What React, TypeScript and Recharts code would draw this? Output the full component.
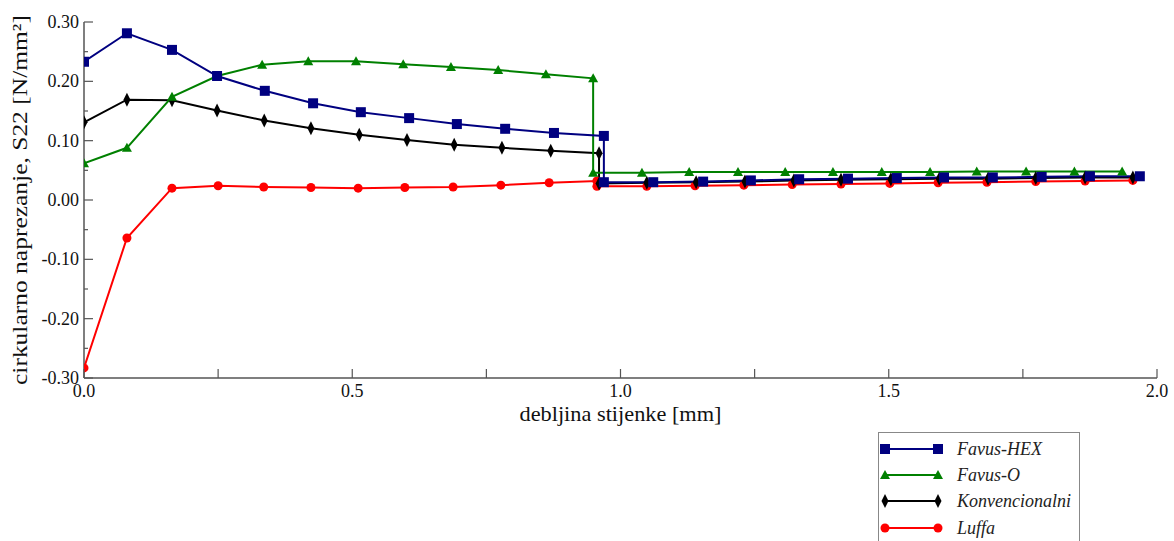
import React from 'react';
import { LineChart, Line, XAxis, YAxis, Label } from 'recharts';

// ---- data (x in mm, y in N/mm²) ----
const hexX = [0, 0.08, 0.164, 0.248, 0.337, 0.427, 0.516, 0.606, 0.695, 0.785, 0.876, 0.969,
  0.969, 1.061, 1.154, 1.243, 1.333, 1.424, 1.515, 1.603, 1.694, 1.785, 1.875, 1.968];
const hexY = [0.233, 0.281, 0.253, 0.209, 0.184, 0.163, 0.148, 0.138, 0.128, 0.12, 0.113, 0.108,
  0.03, 0.03, 0.031, 0.033, 0.035, 0.036, 0.037, 0.038, 0.038, 0.039, 0.04, 0.04];

const oX = [0, 0.08, 0.164, 0.248, 0.332, 0.418, 0.507, 0.595, 0.684, 0.772, 0.861, 0.949,
  0.949, 1.04, 1.128, 1.219, 1.307, 1.396, 1.487, 1.577, 1.664, 1.756, 1.846, 1.935];
const oY = [0.062, 0.088, 0.174, 0.209, 0.228, 0.234, 0.234, 0.229, 0.224, 0.219, 0.212, 0.205,
  0.046, 0.046, 0.047, 0.047, 0.047, 0.047, 0.047, 0.047, 0.048, 0.048, 0.048, 0.048];

const konvX = [0, 0.08, 0.164, 0.248, 0.336, 0.423, 0.513, 0.602, 0.69, 0.779, 0.87, 0.96,
  0.96, 1.049, 1.141, 1.232, 1.323, 1.411, 1.504, 1.594, 1.685, 1.774, 1.866, 1.955];
const konvY = [0.131, 0.169, 0.168, 0.151, 0.134, 0.121, 0.11, 0.101, 0.093, 0.088, 0.083, 0.079,
  0.028, 0.029, 0.03, 0.031, 0.033, 0.034, 0.035, 0.036, 0.036, 0.037, 0.038, 0.038];

const luffaX = [0, 0.08, 0.164, 0.25, 0.335, 0.423, 0.511, 0.598, 0.688, 0.777, 0.867, 0.956,
  0.956, 1.049, 1.139, 1.23, 1.32, 1.411, 1.502, 1.592, 1.683, 1.774, 1.866, 1.955];
const luffaY = [-0.283, -0.064, 0.02, 0.024, 0.022, 0.021, 0.02, 0.021, 0.022, 0.025, 0.029, 0.032,
  0.023, 0.023, 0.024, 0.025, 0.026, 0.027, 0.028, 0.029, 0.03, 0.031, 0.032, 0.033];

const xTicks = [0, 0.25, 0.5, 0.75, 1, 1.25, 1.5, 1.75, 2];
const yTicks = [-0.3, -0.25, -0.2, -0.15, -0.1, -0.05, 0, 0.05, 0.1, 0.15, 0.2, 0.25, 0.3];

const seriesNames = ['Favus-HEX', 'Favus-O', 'Konvencionalni', 'Luffa'];
const colors = ['#000080', '#008000', '#000000', '#ff0000'];

const toPts = (xs: number[], ys: number[]) => xs.map((x, i) => ({ x, y: ys[i] }));
const hexData = toPts(hexX, hexY);
const oData = toPts(oX, oY);
const konvData = toPts(konvX, konvY);
const luffaData = toPts(luffaX, luffaY);

const FONT = '"Liberation Serif", "Times New Roman", serif';
const FRAME = '#555555';

function Marker({ kind, cx, cy, color }: { kind: number; cx: number; cy: number; color: string }) {
  if (kind === 0) return <rect x={cx - 5} y={cy - 5} width={10} height={10} fill={color} />;
  if (kind === 1)
    return <polygon points={`${cx},${cy - 5} ${cx - 5},${cy + 4} ${cx + 5},${cy + 4}`} fill={color} />;
  if (kind === 2)
    return <polygon points={`${cx},${cy - 7} ${cx + 3.5},${cy} ${cx},${cy + 7} ${cx - 3.5},${cy}`} fill={color} />;
  return <circle cx={cx} cy={cy} r={4.5} fill={color} />;
}

const makeDot = (kind: number) => (p: any) => {
  if (p.cx == null || p.cy == null) return <g key={p.index} />;
  return <Marker key={`d-${kind}-${p.index}`} kind={kind} cx={p.cx} cy={p.cy} color={colors[kind]} />;
};

const isMult = (v: number, step: number) => Math.abs(v / step - Math.round(v / step)) < 1e-6;

const BottomTick = (p: any) => {
  const { x, y, payload } = p;
  const v = payload.value as number;
  const major = isMult(v, 0.5);
  return (
    <g>
      <line x1={x} y1={y} x2={x} y2={y - 9} stroke={FRAME} strokeWidth={1.2} />
      {major && (
        <text x={x} y={y + 19} textAnchor="middle" fontFamily={FONT} fontSize={18} fill="#111">
          {v.toFixed(1)}
        </text>
      )}
    </g>
  );
};

const TopTick = (p: any) => {
  const { x, y } = p;
  return <line x1={x} y1={y} x2={x} y2={y + 9} stroke={FRAME} strokeWidth={1.2} />;
};

const LeftTick = (p: any) => {
  const { x, y, payload } = p;
  const v = payload.value as number;
  const major = isMult(v, 0.1);
  return (
    <g>
      <line x1={x} y1={y} x2={x + (major ? 9 : 4)} y2={y} stroke={FRAME} strokeWidth={1.2} />
      {major && (
        <text x={x - 5} y={y + 6} textAnchor="end" fontFamily={FONT} fontSize={18} fill="#111">
          {v.toFixed(2)}
        </text>
      )}
    </g>
  );
};

const RightTick = (p: any) => {
  const { x, y } = p;
  return <line x1={x} y1={y} x2={x - 9} y2={y} stroke={FRAME} strokeWidth={1.2} />;
};

function LegendBox() {
  const rows = [16, 42, 68, 95];
  return (
    <div
      style={{
        position: 'absolute',
        left: 878,
        top: 432,
        width: 202,
        height: 130,
        border: '1px solid #888',
        background: '#fff',
        boxSizing: 'border-box',
      }}
    >
      <svg width={202} height={130}>
        {seriesNames.map((name, i) => (
          <g key={name}>
            <line x1={6} y1={rows[i]} x2={59} y2={rows[i]} stroke={colors[i]} strokeWidth={2} />
            <Marker kind={i} cx={6} cy={rows[i]} color={colors[i]} />
            <Marker kind={i} cx={59} cy={rows[i]} color={colors[i]} />
            <text x={78} y={rows[i] + 6} fontFamily={FONT} fontStyle="italic" fontSize={18} fill="#222">
              {name}
            </text>
          </g>
        ))}
      </svg>
    </div>
  );
}

export default function App() {
  return (
    <div style={{ position: 'absolute', left: 0, top: 0, width: 1174, height: 541, background: '#fff', overflow: 'hidden' }}>
      <LineChart width={1174} height={541} margin={{ top: 22, right: 17, left: 0, bottom: 0 }}>
        <XAxis
          xAxisId="b"
          type="number"
          dataKey="x"
          domain={[0, 2]}
          ticks={xTicks}
          interval={0}
          allowDataOverflow
          height={163}
          tickSize={0}
          tickMargin={0}
          tickLine={false}
          axisLine={{ stroke: FRAME, strokeWidth: 1.5 }}
          tick={BottomTick}
        >
          <Label
            content={(lp: any) => {
              const vb = lp.viewBox || {};
              return (
                <text
                  x={vb.x + vb.width / 2}
                  y={vb.y + 43}
                  textAnchor="middle"
                  fontFamily={FONT}
                  fontSize={21}
                  textLength={202}
                  lengthAdjust="spacingAndGlyphs"
                  fill="#111"
                >
                  debljina stijenke [mm]
                </text>
              );
            }}
          />
        </XAxis>
        <XAxis
          xAxisId="t"
          orientation="top"
          type="number"
          dataKey="x"
          domain={[0, 2]}
          ticks={xTicks}
          interval={0}
          allowDataOverflow
          height={0}
          tickSize={0}
          tickMargin={0}
          tickLine={false}
          axisLine={{ stroke: FRAME, strokeWidth: 1.5 }}
          tick={TopTick}
        />
        <YAxis
          yAxisId="l"
          type="number"
          domain={[-0.3, 0.3]}
          ticks={yTicks}
          interval={0}
          allowDataOverflow
          width={84}
          tickSize={0}
          tickMargin={0}
          tickLine={false}
          axisLine={{ stroke: FRAME, strokeWidth: 1.5 }}
          tick={LeftTick}
        >
          <Label
            content={(lp: any) => {
              const vb = lp.viewBox || {};
              const cx = 27;
              const cy = vb.y + vb.height / 2;
              return (
                <text
                  x={cx}
                  y={cy}
                  transform={`rotate(-90 ${cx} ${cy})`}
                  textAnchor="middle"
                  fontFamily={FONT}
                  fontSize={22}
                  textLength={370}
                  lengthAdjust="spacingAndGlyphs"
                  fill="#111"
                >
                  cirkularno naprezanje, S22 [N/mm²]
                </text>
              );
            }}
          />
        </YAxis>
        <YAxis
          yAxisId="r"
          orientation="right"
          type="number"
          domain={[-0.3, 0.3]}
          ticks={yTicks}
          interval={0}
          allowDataOverflow
          width={0}
          tickSize={0}
          tickMargin={0}
          tickLine={false}
          axisLine={{ stroke: FRAME, strokeWidth: 1.5 }}
          tick={RightTick}
        />
        <Line xAxisId="b" yAxisId="l" data={luffaData} dataKey="y" type="linear" stroke={colors[3]} strokeWidth={2} dot={makeDot(3)} isAnimationActive={false} />
        <Line xAxisId="b" yAxisId="l" data={konvData} dataKey="y" type="linear" stroke={colors[2]} strokeWidth={2} dot={makeDot(2)} isAnimationActive={false} />
        <Line xAxisId="b" yAxisId="l" data={oData} dataKey="y" type="linear" stroke={colors[1]} strokeWidth={2} dot={makeDot(1)} isAnimationActive={false} />
        <Line xAxisId="b" yAxisId="l" data={hexData} dataKey="y" type="linear" stroke={colors[0]} strokeWidth={2} dot={makeDot(0)} isAnimationActive={false} />
      </LineChart>
      <LegendBox />
    </div>
  );
}
